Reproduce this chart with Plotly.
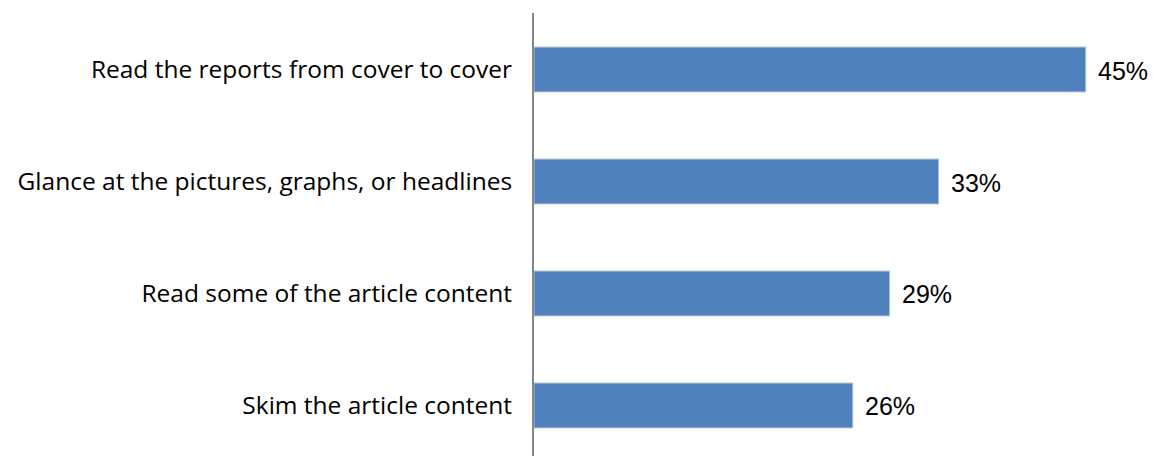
import plotly.graph_objects as go

categories = [
    "Read the reports from cover to cover",
    "Glance at the pictures, graphs, or headlines",
    "Read some of the article content",
    "Skim the article content",
]
values = [45, 33, 29, 26]
value_labels = ["45%", "33%", "29%", "26%"]

LABEL_FONT = "Open Sans, Liberation Sans, Arial, sans-serif"
VALUE_FONT = "Liberation Sans, Arial, sans-serif"

fig = go.Figure(
    go.Bar(
        y=categories,
        x=values,
        orientation="h",
        width=0.4,
        marker=dict(color="#4F81BD", line=dict(color="#A9C1DF", width=1)),
        hoverinfo="skip",
    )
)

for cat, val, lab in zip(categories, values, value_labels):
    fig.add_annotation(
        x=val, y=cat, text=lab, showarrow=False,
        xanchor="left", yanchor="middle", xshift=10, yshift=-1,
        font=dict(family=VALUE_FONT, size=25, color="#000000"),
    )

fig.update_layout(
    width=1153,
    height=456,
    margin=dict(l=534, r=0, t=13, b=0),
    paper_bgcolor="#FFFFFF",
    plot_bgcolor="#FFFFFF",
    showlegend=False,
    font=dict(family=LABEL_FONT, size=24.5, color="#000000"),
    xaxis=dict(range=[0, 50.49], visible=False, showgrid=False, zeroline=False),
    yaxis=dict(
        type="category",
        range=[3.451, -0.5045],
        showline=True,
        linecolor="#868686",
        linewidth=2,
        showgrid=False,
        zeroline=False,
        ticks="",
        ticklabelstandoff=15,
        tickfont=dict(family=LABEL_FONT, size=24.5, color="#000000"),
    ),
)

fig.write_html("out.html")
